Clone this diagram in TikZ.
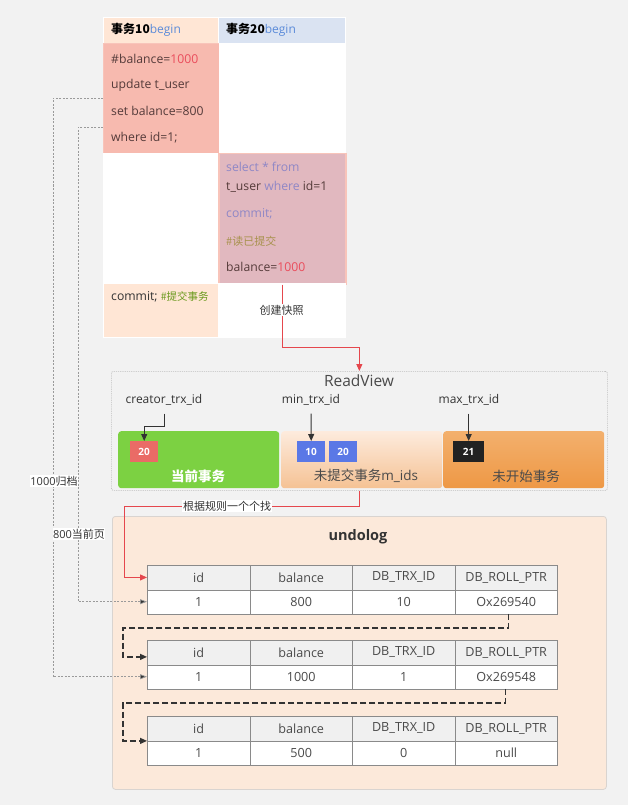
\documentclass[tikz,border=0pt]{standalone}
\usepackage{fontspec}
\setmainfont{Open Sans}
\newfontfamily\cjk{Noto Sans CJK SC}
\usetikzlibrary{arrows.meta,calc}
\definecolor{bgc}{HTML}{F2F2F2}
\definecolor{peachc}{HTML}{FFE6D5}
\definecolor{bluehd}{HTML}{DAE3F2}
\definecolor{salmonc}{HTML}{F7BAAF}
\definecolor{salmonb}{HTML}{F8C4BA}
\definecolor{pinkc}{HTML}{E1B8BF}
\definecolor{beginc}{HTML}{5B8BD9}
\definecolor{redt}{HTML}{EA4D5C}
\definecolor{purpc}{HTML}{8F87C6}
\definecolor{olivec}{HTML}{A8924E}
\definecolor{greent}{HTML}{6B9A1E}
\definecolor{brownt}{HTML}{553B3A}
\definecolor{darkt}{HTML}{333333}
\definecolor{greyt}{HTML}{4A4A4A}
\definecolor{redl}{HTML}{E5474D}
\definecolor{greenbox}{HTML}{7CD142}
\definecolor{midtop}{HTML}{FDEBDD}
\definecolor{midbot}{HTML}{F5C294}
\definecolor{ortop}{HTML}{F3B06D}
\definecolor{orbot}{HTML}{EE9845}
\definecolor{redbox}{HTML}{EA6B66}
\definecolor{bluebox}{HTML}{5A78E6}
\definecolor{blackbox}{HTML}{222222}
\definecolor{undoc}{HTML}{FCE9DA}
\definecolor{undob}{HTML}{D9D4D0}
\definecolor{thead}{HTML}{F0F0F0}
\definecolor{tbord}{HTML}{8A8A8A}
\definecolor{rvb}{HTML}{BDBDBD}
\definecolor{gline}{HTML}{9A9A9A}
\tikzset{
  tcell/.style={anchor=north west, inner sep=0, draw=white, line width=1pt},
  ln/.style={anchor=west, inner sep=0, font=\fontsize{12.2}{14}\selectfont, text=brownt},
  lbl/.style={fill=white, inner sep=1pt, font=\fontsize{11}{12}\selectfont, text=darkt},
  seg/.style={anchor=north west, inner sep=0, rounded corners=3pt, minimum width=161, minimum height=57},
  sbox/.style={anchor=north west, inner sep=0, minimum height=21, text=white, font=\fontsize{10}{11}\selectfont\bfseries},
  hcell/.style={anchor=north west, inner sep=0, draw=tbord, fill=thead, minimum height=24.5, text=greyt, font=\fontsize{12.6}{14}\selectfont},
  dcell/.style={anchor=north west, inner sep=0, draw=tbord, fill=white, minimum height=24, text=greyt, font=\fontsize{12.6}{14}\selectfont},
  redarr/.style={draw=redl, line width=1pt, -{Triangle[length=7pt,width=6pt]}},
  blkarr/.style={draw=darkt, line width=1pt, -{Triangle[length=7pt,width=6pt]}},
  dasharr/.style={draw=darkt, line width=1.2pt, dash pattern=on 6pt off 3pt, -{Triangle[length=7pt,width=6pt]}},
  dotarr/.style={draw=gline, line width=0.7pt, dash pattern=on 2pt off 1.5pt, -{Triangle[length=7pt,width=5pt,fill=darkt]}},
}
\begin{document}
\begin{tikzpicture}[x=1pt,y=-1pt]
\path[fill=bgc] (0,0) rectangle (628,805);
\useasboundingbox (0,0) rectangle (628,805);

% ---------- top table ----------
\node[tcell, fill=peachc, minimum width=115, minimum height=26] (h1) at (103,17) {};
\node[tcell, fill=bluehd, minimum width=127, minimum height=26] (h2) at (218,17) {};
\node[ln, text=black, font=\fontsize{12}{13}\selectfont] (h1t) at (111,30) {{\cjk\bfseries 事务10}\textcolor{beginc}{begin}};
\node[ln, text=black, font=\fontsize{12}{13}\selectfont] (h2t) at (226,30) {{\cjk\bfseries 事务20}\textcolor{beginc}{begin}};

\node[tcell, fill=salmonc, draw=salmonb, minimum width=116, minimum height=110] (c21) at (103,43) {};
\node[tcell, fill=white, minimum width=126, minimum height=110] (c22) at (219,43) {};
\node[ln] (l1) at (111,59) {\#balance=\textcolor{redt}{1000}};
\node[ln] (l2) at (111,85) {update t\_user};
\node[ln] (l3) at (111,111) {set balance=800};
\node[ln] (l4) at (111,138) {where id=1;};

\node[tcell, fill=white, minimum width=115, minimum height=130] (c31) at (103,153) {};
\node[tcell, fill=pinkc, draw=salmonb, line width=1.5pt, minimum width=127, minimum height=130] (c32) at (218,153) {};
\node[ln] (m1) at (226,167) {\textcolor{purpc}{select * from}};
\node[ln] (m2) at (226,187) {t\_user \textcolor{purpc}{where} id=1};
\node[ln] (m3) at (226,214) {\textcolor{purpc}{commit;}};
\node[ln, font=\fontsize{11}{13}\selectfont\cjk, text=olivec] (m4) at (226,241) {\#读已提交};
\node[ln] (m5) at (226,267) {balance=\textcolor{redt}{1000}};

\node[tcell, fill=peachc, minimum width=115, minimum height=54] (c41) at (103,283) {};
\node[tcell, fill=white, minimum width=127, minimum height=54] (c42) at (218,283) {};
\node[ln, text=darkt] (n1) at (111,297) {commit; {\cjk\fontsize{10.5}{12}\selectfont\textcolor{greent}{\#提交事务}}};

% ---------- ReadView ----------
\node[anchor=north west, inner sep=0, draw=rvb, fill=bgc, line width=0.7pt, dash pattern=on 1.2pt off 1pt, rounded corners=2pt, minimum width=496, minimum height=119] (rv) at (111,371) {};
\draw[redarr] (c32.south) |- ($(rv.north)+(0,-24)$) -- (rv.north);
\node[lbl, fill=white, font=\fontsize{11}{12}\selectfont\cjk] (snap) at (281.5,310) {创建快照};
\node[inner sep=0, text=greyt, font=\fontsize{15.5}{17}\selectfont] (rvt) at (359,381) {ReadView};
\node[inner sep=0, text=darkt, font=\fontsize{12}{13}\selectfont] (lc) at (164,400) {creator\_trx\_id};
\node[inner sep=0, text=darkt, font=\fontsize{12}{13}\selectfont] (lmin) at (311,400) {min\_trx\_id};
\node[inner sep=0, text=darkt, font=\fontsize{12}{13}\selectfont] (lmax) at (469,400) {max\_trx\_id};

\node[seg, fill=greenbox] (sg) at (118,431) {};
\node[seg, top color=midtop, bottom color=midbot] (sm) at (281,431) {};
\node[seg, top color=ortop, bottom color=orbot] (so) at (443,431) {};

\node[sbox, fill=redbox, minimum width=28] (s20) at (130,441) {20};
\node[sbox, fill=bluebox, minimum width=28] (b10) at (297,441) {10};
\node[sbox, fill=bluebox, minimum width=28] (b20) at (329,441) {20};
\node[sbox, fill=blackbox, minimum width=31] (k21) at (453,441) {21};

\node[inner sep=0, text=white, font=\fontsize{13.5}{15}\selectfont\cjk\bfseries] (tg) at (198,476) {当前事务};
\node[inner sep=0, text=greyt, font=\fontsize{13.5}{15}\selectfont] (tm) at (366,476) {{\cjk 未提交事务}m\_ids};
\node[inner sep=0, text=greyt, font=\fontsize{13.5}{15}\selectfont\cjk] (to) at (526,476) {未开始事务};

\draw[blkarr] ([yshift=-8pt]lc.south) -- ++(0,13) -| (s20.north);
\draw[blkarr] ([yshift=-8pt]lmin.south) -- (b10.north);
\draw[blkarr] ([yshift=-8pt]lmax.south -| k21.north) -- (k21.north);

% ---------- undolog ----------
\node[anchor=north west, inner sep=0, draw=undob, fill=undoc, line width=0.8pt, rounded corners=3pt, minimum width=494, minimum height=273] (ul) at (112,516) {};
\node[inner sep=0, text=darkt, font=\fontsize{14.5}{16}\selectfont\bfseries] (ult) at (358,537) {undolog};

\foreach \t/\y/\a/\b/\c/\d in {1/565/1/800/10/Ox269540, 2/640/1/1000/1/Ox269548, 3/716/1/500/0/null} {
  \node[hcell, minimum width=103] (t\t h1) at (147,\y) {id};
  \node[hcell, minimum width=102] (t\t h2) at (250,\y) {balance};
  \node[hcell, minimum width=103] (t\t h3) at (352,\y) {DB\_TRX\_ID};
  \node[hcell, minimum width=102] (t\t h4) at (455,\y) {DB\_ROLL\_PTR};
  \node[dcell, minimum width=103] (t\t d1) at (147,\y+24.5) {\a};
  \node[dcell, minimum width=102] (t\t d2) at (250,\y+24.5) {\b};
  \node[dcell, minimum width=103] (t\t d3) at (352,\y+24.5) {\c};
  \node[dcell, minimum width=102] (t\t d4) at (455,\y+24.5) {\d};
}

% rule search arrow
\draw[redarr] (rv.south) |- (124,506) |- (t1h1.west);
\node[lbl, font=\fontsize{11}{12}\selectfont\cjk] (rule) at (227,506) {根据规则一个个找};

% roll pointers
\draw[dasharr] ([xshift=2pt]t1d4.south) |- (123,628) |- ($(t2h1.south west)+(0,-8)$);
\draw[dasharr] ([xshift=-1pt]t2d4.south) |- (123,703) |- (t3h1.south west);

% left dotted links
\draw[dotarr] (c21.west |- 0,98) -- (53,98) -- (53,0 |- t2d1.west) -- (t2d1.west);
\draw[dotarr] (c21.west |- 0,127) -- (78,127) -- (78,0 |- t1d1.west) -- (t1d1.west);
\node[lbl, inner sep=0.5pt, font=\fontsize{11}{12}\selectfont] (a1000) at (54,481) {1000{\cjk 归档}};
\node[lbl, inner sep=0.5pt, font=\fontsize{11}{12}\selectfont] (a800) at (79,534) {800{\cjk 当前页}};
\end{tikzpicture}
\end{document}
